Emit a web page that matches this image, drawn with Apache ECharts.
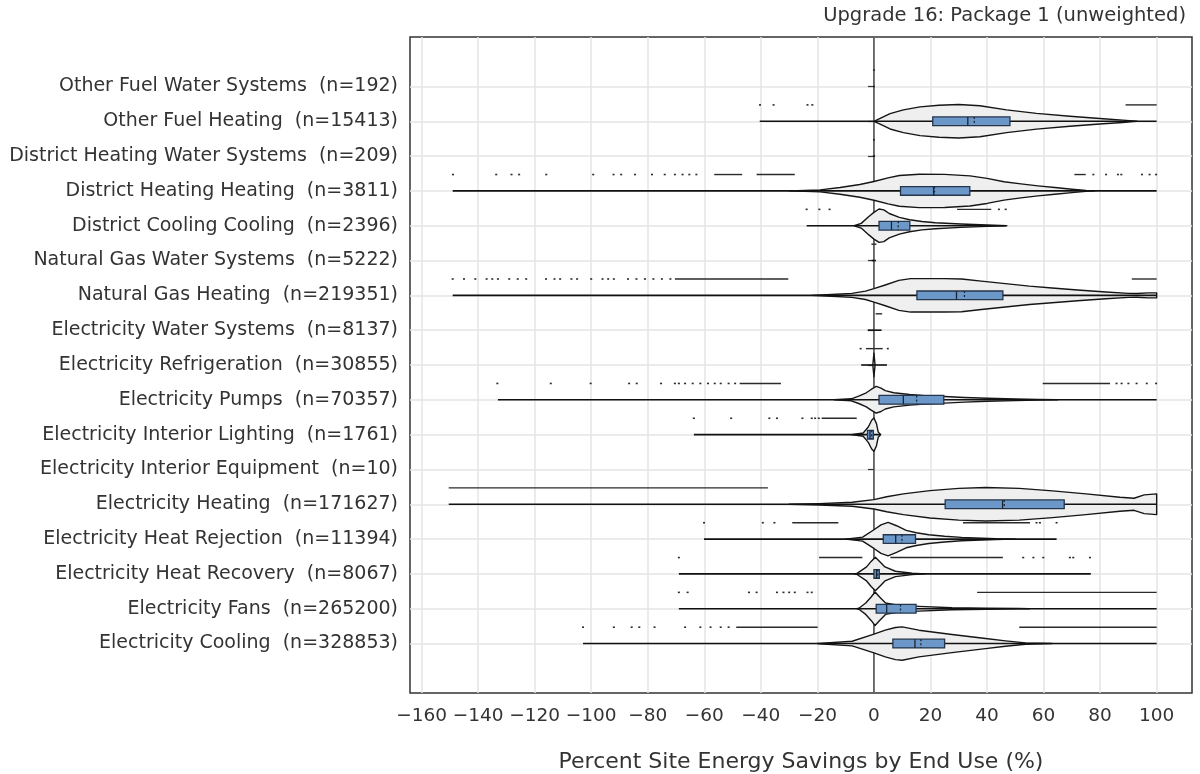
<!DOCTYPE html>
<html>
<head>
<meta charset="utf-8">
<script src="https://cdn.jsdelivr.net/npm/echarts@6/dist/echarts.min.js"></script>
<style>
  html, body { margin: 0; padding: 0; background: #ffffff; }
  #chart { width: 1200px; height: 774px; }
</style>
</head>
<body>
<div id="chart"></div>
<script>
// End uses, listed top to bottom as they appear on the y axis
const categories = [
  'Other Fuel Water Systems',
  'Other Fuel Heating',
  'District Heating Water Systems',
  'District Heating Heating',
  'District Cooling Cooling',
  'Natural Gas Water Systems',
  'Natural Gas Heating',
  'Electricity Water Systems',
  'Electricity Refrigeration',
  'Electricity Pumps',
  'Electricity Interior Lighting',
  'Electricity Interior Equipment',
  'Electricity Heating',
  'Electricity Heat Rejection',
  'Electricity Heat Recovery',
  'Electricity Fans',
  'Electricity Cooling'
];

// Sample counts per end use
const counts = [192, 15413, 209, 3811, 2396, 5222, 219351, 8137, 30855, 70357, 1761, 10, 171627, 11394, 8067, 265200, 328853];

// x-axis tick values (percent savings)
const xTicks = [-160, -140, -120, -100, -80, -60, -40, -20, 0, 20, 40, 60, 80, 100];

// Full range of each distribution [min, max]
const extents = [
  [-0.3, 0.3],
  [-40.4, 100],
  [-0.4, 0.4],
  [-149, 100],
  [-23.8, 46.6],
  [-0.8, 0.7],
  [-149, 100],
  [-2.2, 2.7],
  [-4.5, 4.6],
  [-133, 100],
  [-63.7, 2.4],
  [0, 0],
  [-150.4, 100],
  [-60.1, 64.6],
  [-69, 76.7],
  [-69, 100],
  [-102.9, 100]
];

// Box statistics [q1, median, mean, q3]
const boxStats = [
  null,
  [20.8, 33.2, 35.5, 48.1],
  null,
  [9.4, 21.1, 21.4, 33.9],
  [1.8, 6.2, 8.6, 12.7],
  null,
  [15.2, 29.2, 32.0, 45.6],
  null,
  null,
  [1.8, 10.4, 15.1, 24.7],
  [-2.3, -1.4, -0.8, -0.2],
  null,
  [25.2, 45.5, 46.1, 67.3],
  [3.3, 7.7, 9.9, 14.7],
  [0, 0.9, 1.3, 1.9],
  [0.8, 4.5, 9.4, 14.9],
  [6.7, 14.5, 16.6, 25.0]
];

// Kernel density profiles [value, relative density], peak scaled to 1
const densities = [
  null,
  [[0, 0], [2, 0.16], [5.7, 0.46], [10.4, 0.68], [16.3, 0.86], [23, 0.96], [30, 1], [37.5, 0.93], [46.9, 0.68], [57.5, 0.47], [69.3, 0.3], [81.1, 0.15], [88, 0.07], [91.7, 0.02], [93, 0]],
  null,
  [[-30, 0], [-19, 0.06], [-12, 0.2], [-5, 0.38], [0, 0.56], [5, 0.78], [9, 0.92], [16, 1], [25, 0.99], [34, 0.9], [40, 0.75], [46, 0.55], [52, 0.42], [58, 0.3], [64, 0.2], [70, 0.1], [75, 0.03], [78, 0]],
  [[-7, 0], [-4.5, 0.14], [-1.8, 0.55], [0, 0.8], [1.8, 1], [3.5, 0.95], [5.4, 0.73], [9, 0.5], [12.6, 0.36], [17, 0.25], [21.7, 0.18], [30.7, 0.1], [40, 0.04], [47, 0]],
  null,
  [[-22, 0], [-15, 0.05], [-7.8, 0.12], [-3, 0.25], [0, 0.4], [4, 0.62], [8.8, 0.9], [13, 1], [25, 1], [31, 0.98], [38, 0.85], [46.5, 0.7], [55, 0.55], [63, 0.44], [72, 0.32], [82, 0.2], [90, 0.12], [93, 0.11], [97, 0.15], [100, 0.15]],
  null,
  [[-0.4, 0], [0, 0.7], [0.4, 0]],
  [[-14, 0], [-8, 0.06], [-5.4, 0.22], [-2.7, 0.42], [-1, 0.62], [0.8, 0.8], [2.5, 0.7], [4, 0.55], [7, 0.42], [12.6, 0.32], [18, 0.25], [25, 0.2], [32, 0.14], [40, 0.09], [50, 0.05], [58, 0.02], [65, 0]],
  [[-8, 0], [-3.8, 0.1], [-2, 0.46], [-0.8, 0.86], [0, 1], [0.9, 0.66], [1.5, 0.16], [2.4, 0]],
  null,
  [[-30, 0], [-19.4, 0.04], [-7.7, 0.12], [0, 0.28], [4.5, 0.45], [10.4, 0.62], [19.8, 0.82], [30, 0.95], [39.5, 1], [51.4, 0.95], [63.2, 0.8], [75, 0.62], [87, 0.42], [92, 0.36], [95.6, 0.56], [100, 0.62]],
  [[-10, 0], [-4, 0.12], [0, 0.56], [2.5, 0.85], [5, 1], [8, 0.8], [11.4, 0.52], [15, 0.38], [19.4, 0.26], [25, 0.17], [31, 0.1], [43, 0.02], [50, 0]],
  [[-7, 0], [-6.1, 0.02], [-2.6, 0.42], [-1, 0.75], [0.5, 1], [2, 0.75], [3.9, 0.42], [7.6, 0.16], [13.5, 0.04], [18, 0]],
  [[-6, 0], [-5.3, 0.03], [-2.9, 0.34], [-1, 0.7], [0.4, 1], [2, 0.7], [4.1, 0.34], [8, 0.22], [15.9, 0.14], [27.6, 0.06], [39.5, 0.03], [51, 0.01], [55, 0]],
  [[-20, 0], [-19.4, 0.01], [-7.7, 0.14], [0, 0.56], [4, 0.8], [7.6, 0.96], [10, 1], [15.9, 0.8], [27.6, 0.54], [39.5, 0.3], [46.5, 0.16], [53.6, 0.04], [63, 0]]
];

// Individual outlying values
const outlierPoints = [
  [0],
  [-40.3, -35.5, -23.5, -21.8],
  [0],
  [-148.9, -133.6, -128.2, -125.5, -115.9, -99.3, -92.1, -89.4, -84.5, -78.5, -74, -70.4, -67.7, -65.3, -62.8, 77.6, 82.1, 86.3, 87.5, 94.8, 97.5, 99.8],
  [-23.8, -19.3, -15.7, 44.2, 46.6],
  [],
  [-149, -145, -141, -137, -135, -133, -129, -126, -123, -116, -113, -111, -107, -105, -100, -96, -94, -92, -87, -84, -81, -78, -75, -72],
  [],
  [-4.7, 4.9],
  [-133.2, -114.3, -100.2, -86.6, -83.9, -75.3, -70.4, -69, -66.8, -64.1, -61.4, -58.7, -56.3, -54.2, -51.4, -49.1, 85.8, 87.6, 90, 92.9, 96.5, 99.8],
  [-63.7, -50.5, -37, -34.3, -25.3, -22, -20.8, -19.5],
  [],
  [],
  [-60.1, -39.3, -35.2, 57.5, 58.7, 64.6],
  [-69, 52.8, 56.4, 59.9, 69.3, 70.5, 76.4],
  [-69, -65.9, -44.2, -41.5, -34.3, -32, -30, -28, -23.5, -22],
  [-102.9, -92, -85.7, -83, -77.6, -66.8, -61.4, -57.8, -54.2, -51.4]
];

// Dense runs of outlying values [from, to]
const outlierRuns = [
  [],
  [[89, 100]],
  [],
  [[-56.5, -46.6], [-41.5, -28], [70.9, 74.9]],
  [[29.4, 41.5]],
  [[-0.9, 0.9]],
  [[-70.4, -30.3], [91.2, 100]],
  [[0.6, 2.9]],
  [[-2.8, 3.1]],
  [[-47.5, -32.9], [59.7, 83.5]],
  [[-18.5, -6.1]],
  [],
  [[-150.4, -37.5]],
  [[-28.9, -12.6], [31.5, 55.2]],
  [[-19.4, -4.1], [5.8, 45.6]],
  [[36.5, 100]],
  [[-48.7, -19.9], [51.4, 100]]
];

const FONT = 'DejaVu Sans';
const TEXT = '#333333';
const nRows = categories.length;
const yMin = -1.42, yMax = nRows - 1 + 1.42;
const rowTicks = categories.map((_, i) => i);

function rowOf(i) { return nRows - 1 - i; }
function fmtX(v) { return v < 0 ? '\u2212' + Math.abs(v) : String(v); }

function renderZero(params, api) {
  const a = api.coord([0, yMin]);
  const b = api.coord([0, yMax]);
  return {
    type: 'line',
    shape: { x1: a[0], y1: a[1], x2: b[0], y2: b[1] },
    style: { stroke: '#3a3a3a', lineWidth: 1.4 }
  };
}

function renderViolin(params, api) {
  const i = params.dataIndex;
  const row = rowOf(i);
  const unit = api.size([0, 1])[1];
  const halfMax = unit * 0.48;
  const children = [];

  const prof = densities[i];
  if (prof) {
    const up = [], lo = [];
    prof.forEach(([v, d]) => {
      const p = api.coord([v, row]);
      up.push([p[0], p[1] - d * halfMax]);
      lo.push([p[0], p[1] + d * halfMax]);
    });
    children.push({
      type: 'polygon',
      shape: { points: up.concat(lo.reverse()) },
      style: { fill: '#efefef', stroke: '#151515', lineWidth: 1.4, lineJoin: 'round' }
    });
  }

  const e0 = api.coord([extents[i][0], row]);
  const e1 = api.coord([extents[i][1], row]);
  children.push({
    type: 'line',
    shape: { x1: e0[0], y1: e0[1], x2: e1[0], y2: e1[1] },
    style: { stroke: '#111111', lineWidth: 1.6 }
  });

  const bs = boxStats[i];
  if (bs) {
    const [q1, med, mean, q3] = bs;
    const bh = unit * 0.125;
    const p1 = api.coord([q1, row]);
    const p3 = api.coord([q3, row]);
    const pm = api.coord([med, row]);
    const pa = api.coord([mean, row]);
    children.push({
      type: 'rect',
      shape: { x: p1[0], y: p1[1] - bh, width: Math.max(p3[0] - p1[0], 1), height: 2 * bh },
      style: { fill: '#6b98c9', stroke: '#25354a', lineWidth: 1.3 }
    });
    children.push({
      type: 'line',
      shape: { x1: pm[0], y1: pm[1] - bh, x2: pm[0], y2: pm[1] + bh },
      style: { stroke: '#1b2533', lineWidth: 1.3 }
    });
    children.push({
      type: 'line',
      shape: { x1: pa[0], y1: pa[1] - bh, x2: pa[0], y2: pa[1] + bh },
      style: { stroke: '#1b2533', lineWidth: 1.3, lineDash: [2, 2] }
    });
  }

  const oy = row + 0.47;
  outlierRuns[i].forEach(([a, b]) => {
    const pa = api.coord([a, oy]);
    const pb = api.coord([b, oy]);
    children.push({
      type: 'line',
      shape: { x1: pa[0], y1: pa[1], x2: pb[0], y2: pb[1] },
      style: { stroke: '#2a2a2a', lineWidth: 1.4 }
    });
  });
  outlierPoints[i].forEach(v => {
    const p = api.coord([v, oy]);
    children.push({
      type: 'rect',
      shape: { x: p[0] - 1, y: p[1] - 0.8, width: 2, height: 1.6 },
      style: { fill: '#2a2a2a' }
    });
  });

  return { type: 'group', children };
}

const chart = echarts.init(document.getElementById('chart'), null, { renderer: 'canvas' });

chart.setOption({
  animation: false,
  backgroundColor: '#ffffff',
  textStyle: { fontFamily: FONT },
  title: {
    text: 'Upgrade 16: Package 1 (unweighted)',
    right: 9,
    top: 1,
    textStyle: { fontFamily: FONT, fontSize: 19.5, fontWeight: 'normal', color: TEXT }
  },
  grid: {
    left: 410, right: 8, top: 37, bottom: 81,
    outerBoundsMode: 'none',
    containLabel: false,
    show: true, borderColor: '#333333', borderWidth: 1.5, backgroundColor: 'transparent'
  },
  xAxis: {
    type: 'value',
    min: -164.1,
    max: 112.5,
    name: 'Percent Site Energy Savings by End Use (%)',
    nameLocation: 'middle',
    nameGap: 58,
    nameTextStyle: { fontFamily: FONT, fontSize: 22, color: TEXT },
    axisLine: { show: false },
    axisTick: { show: false, customValues: xTicks },
    axisLabel: {
      customValues: xTicks,
      formatter: fmtX,
      margin: 14,
      fontFamily: FONT, fontSize: 18.5, color: TEXT
    },
    splitLine: { show: true, lineStyle: { color: '#e4e4e4', width: 1.5 } }
  },
  yAxis: {
    type: 'value',
    min: yMin,
    max: yMax,
    axisLine: { show: false },
    axisTick: { show: true, customValues: rowTicks, length: 6, lineStyle: { color: '#333333', width: 1.2 } },
    axisLabel: {
      customValues: rowTicks,
      formatter: v => {
        const i = nRows - 1 - Math.round(v);
        return categories[i] + '  (n=' + counts[i] + ')';
      },
      margin: 12,
      fontFamily: FONT, fontSize: 19, color: TEXT
    },
    splitLine: { show: true, lineStyle: { color: '#e4e4e4', width: 1.5 } }
  },
  series: [
    {
      type: 'custom',
      name: 'zero',
      z: 1,
      silent: true,
      data: [[0, 0]],
      renderItem: renderZero
    },
    {
      type: 'custom',
      name: 'violins',
      z: 2,
      silent: true,
      data: categories.map((_, i) => [0, rowOf(i)]),
      renderItem: renderViolin
    }
  ]
});
</script>
</body>
</html>
